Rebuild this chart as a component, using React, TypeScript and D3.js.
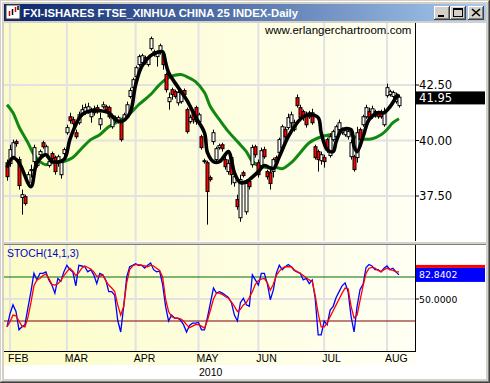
import React from "react";
import * as d3 from "d3";

const TITLE = "FXI-ISHARES FTSE_XINHUA CHINA 25 INDEX-Daily";
const WATERMARK = "www.erlangerchartroom.com";
const FIRST_BAR = -1; // Jan 29 2010 ; bar 0 = Feb 1 2010

const opens = [39.00, 38.96, 39.27, 39.95, 39.14, 37.43, 37.47, 38.10, 38.64, 39.05, 38.87, 39.36, 39.90, 39.32, 38.87, 39.41, 39.23, 39.00, 38.46, 39.41,
  40.35, 41.07, 40.94, 40.35, 40.80, 41.16, 41.30, 41.30, 41.07, 41.43, 41.48, 40.71, 41.52, 41.52, 41.48, 40.62, 41.03, 40.85, 40.80, 40.94,
  41.07, 41.98, 42.38, 42.88, 43.42, 43.51, 43.73, 43.42, 44.14, 43.87, 43.78, 43.96, 43.87, 42.97, 41.75, 42.29, 42.20, 41.70, 41.75, 42.25,
  41.39, 40.85, 41.30, 41.48, 40.85, 40.17, 39.09, 39.00, 38.33, 39.95, 39.14, 39.68, 39.81, 39.14, 38.60, 39.23, 38.10, 37.34, 36.52, 38.55,
  36.79, 38.15, 38.91, 39.72, 39.00, 38.87, 39.59, 38.60, 38.55, 38.60, 39.23, 39.45, 39.68, 40.49, 40.58, 40.80, 40.49, 41.93, 41.48, 41.30,
  41.16, 41.07, 41.25, 39.72, 39.50, 39.09, 39.23, 40.04, 39.32, 40.04, 40.17, 40.49, 40.35, 40.26, 40.17, 39.27, 39.27, 39.23, 40.49, 40.71,
  41.07, 41.30, 41.07, 41.30, 41.25, 41.25, 40.71, 42.02, 42.07, 41.98, 41.75, 41.57];
const closes = [38.37, 39.59, 39.90, 39.86, 37.97, 37.56, 37.16, 38.46, 38.69, 39.68, 39.05, 39.50, 39.72, 39.72, 39.05, 39.18, 38.60, 39.27, 39.00, 39.59,
  40.58, 40.89, 40.76, 40.17, 41.16, 41.39, 41.48, 41.52, 41.30, 41.25, 41.30, 40.98, 41.61, 41.39, 41.07, 41.12, 40.89, 41.03, 40.04, 41.16,
  41.61, 42.25, 42.74, 43.28, 43.78, 43.82, 43.51, 43.73, 44.59, 44.00, 43.96, 44.27, 43.42, 42.29, 41.93, 42.07, 41.98, 42.16, 42.20, 42.07,
  40.40, 41.03, 40.94, 40.85, 41.16, 39.68, 39.05, 37.70, 38.24, 40.35, 39.63, 39.77, 39.63, 38.82, 38.96, 38.46, 38.37, 37.02, 38.24, 38.42,
  38.06, 37.92, 39.68, 39.36, 38.46, 39.54, 39.27, 38.37, 38.06, 39.14, 39.05, 40.04, 40.62, 40.17, 41.03, 41.16, 40.80, 41.57, 41.03, 41.03,
  40.71, 41.25, 40.80, 39.23, 39.14, 39.36, 39.05, 39.59, 40.17, 40.40, 40.62, 40.80, 40.49, 40.44, 40.40, 39.90, 38.69, 40.35, 40.04, 41.07,
  41.48, 41.03, 41.43, 41.12, 41.07, 41.07, 41.30, 42.38, 42.20, 42.16, 42.02, 41.95];
const highs = [39.14, 39.81, 40.04, 40.04, 39.27, 37.79, 37.56, 38.60, 38.91, 39.81, 39.14, 39.59, 39.99, 39.81, 39.23, 39.50, 39.32, 39.36, 39.14, 39.68,
  40.71, 41.25, 41.07, 40.49, 41.30, 41.61, 41.66, 41.70, 41.48, 41.57, 41.61, 41.25, 41.75, 41.61, 41.57, 41.21, 41.12, 41.12, 40.89, 41.25,
  41.75, 42.38, 42.83, 43.37, 43.87, 43.91, 43.82, 43.82, 44.68, 44.09, 44.05, 44.36, 44.00, 43.06, 42.16, 42.38, 42.29, 42.29, 42.29, 42.34,
  41.48, 41.16, 41.39, 41.57, 41.25, 40.26, 39.18, 39.09, 38.42, 40.49, 39.72, 39.86, 39.90, 39.27, 39.14, 39.36, 38.46, 37.56, 38.46, 38.64,
  38.24, 38.24, 39.81, 39.81, 39.14, 39.68, 39.72, 38.69, 38.69, 39.23, 39.32, 40.13, 40.71, 40.62, 41.21, 41.30, 40.94, 42.07, 41.61, 41.39,
  41.30, 41.34, 41.43, 39.81, 39.59, 39.50, 39.36, 40.13, 40.31, 40.49, 40.71, 40.94, 40.58, 40.53, 40.49, 40.04, 39.36, 40.62, 40.58, 41.16,
  41.61, 41.48, 41.57, 41.39, 41.34, 41.39, 41.48, 42.56, 42.29, 42.25, 42.16, 42.07];
const lows = [38.19, 38.82, 39.14, 39.72, 37.79, 36.66, 37.07, 37.97, 38.33, 38.91, 38.78, 39.23, 39.63, 39.23, 38.78, 39.09, 38.46, 38.82, 38.28, 39.27,
  40.26, 40.76, 40.62, 40.08, 40.71, 41.07, 41.16, 41.21, 40.80, 41.12, 41.21, 40.49, 41.43, 41.30, 40.98, 40.53, 40.80, 40.76, 39.95, 40.85,
  40.98, 41.89, 42.29, 42.79, 43.33, 43.46, 43.42, 43.33, 44.05, 43.78, 43.33, 43.87, 43.19, 42.16, 41.39, 41.84, 41.89, 41.57, 41.66, 41.98,
  40.31, 40.76, 40.76, 40.71, 40.71, 39.59, 38.96, 36.21, 38.15, 39.81, 39.00, 39.59, 39.50, 38.69, 38.46, 38.01, 37.92, 36.88, 36.34, 38.33,
  36.66, 37.79, 38.78, 39.23, 38.33, 38.78, 39.18, 38.24, 37.79, 38.33, 38.91, 39.32, 39.59, 40.08, 40.49, 40.44, 40.40, 41.48, 40.94, 40.89,
  40.58, 40.98, 40.71, 39.14, 38.60, 38.91, 38.78, 39.45, 39.23, 39.95, 40.08, 40.40, 40.26, 40.17, 40.04, 39.14, 38.60, 39.00, 39.95, 40.62,
  40.98, 40.94, 40.98, 41.03, 40.98, 40.98, 40.62, 41.93, 41.98, 41.89, 41.66, 41.48];

// thick black short-term average (bar index, price)
const trendIdx = [-1, 1, 3, 7, 9, 12, 14, 18, 20, 22, 24, 27, 30, 33, 35, 37, 40, 42, 44, 47, 49, 51, 52, 53, 56, 59, 62, 65, 66, 68, 70, 73, 74, 75, 77, 79, 80, 83, 85, 88, 90, 93, 96, 98, 100, 103, 104, 106, 108, 109, 111, 114, 115, 116, 118, 120, 123, 125, 127, 129, 130];
const trendVal = [38.78, 39.23, 39.00, 37.92, 39.00, 39.36, 39.05, 39.14, 40.04, 40.71, 41.16, 41.34, 41.34, 41.25, 40.98, 40.85, 41.21, 42.52, 43.33, 43.82, 43.96, 44.00, 43.51, 43.06, 42.43, 41.84, 41.07, 40.35, 39.45, 39.05, 39.05, 39.50, 39.14, 38.55, 38.10, 38.15, 38.24, 38.60, 38.87, 38.73, 39.27, 40.17, 40.80, 41.07, 41.16, 41.03, 40.35, 39.59, 39.50, 39.95, 40.49, 40.49, 39.72, 39.50, 40.17, 40.94, 41.25, 41.25, 41.52, 41.93, 42.07];

// green longer moving average (bar index, price)
const maIdx = [-1, 1, 3, 6, 8, 10, 12, 14, 18, 21, 24, 27, 30, 33, 36, 40, 43, 47, 50, 53, 57, 59, 62, 65, 67, 70, 73, 76, 79, 81, 84, 86, 89, 91, 94, 97, 100, 104, 107, 110, 113, 115, 117, 121, 124, 126, 128, 130];
const maVal = [41.61, 41.25, 40.62, 39.90, 39.36, 39.05, 38.91, 39.00, 39.05, 39.23, 39.65, 40.04, 40.26, 40.62, 40.85, 41.21, 41.61, 42.07, 42.52, 42.83, 42.97, 42.88, 42.65, 42.16, 41.52, 40.94, 40.40, 39.95, 39.50, 39.05, 38.82, 38.78, 38.78, 38.73, 39.00, 39.45, 39.90, 40.17, 40.26, 40.40, 40.35, 40.17, 40.08, 40.08, 40.26, 40.49, 40.80, 40.98];

const stochK = [12, 30, 42, 33, 8, 12, 15, 38, 60, 85, 76, 85, 85, 87, 76, 69, 58, 78, 74, 87,
  96, 90, 87, 68, 96, 95, 94, 87, 90, 83, 71, 85, 83, 76, 60, 60, 55, 21, 5, 40,
  80, 94, 96, 98, 96, 96, 92, 96, 99, 90, 87, 88, 70, 40, 20, 28, 24, 24, 21, 15,
  5, 14, 17, 17, 18, 8, 8, 25, 45, 65, 58, 60, 58, 55, 52, 45, 28, 20, 45, 51,
  42, 40, 83, 76, 69, 85, 85, 71, 49, 62, 85, 96, 90, 94, 97, 94, 89, 87, 85, 76,
  78, 71, 76, 51, 1, 1, 20, 15, 35, 40, 52, 60, 68, 72, 60, 26, 5, 40, 63, 70,
  93, 97, 95, 90, 90, 87, 92, 95, 90, 92, 87, 82.8402];
const stochD = [12, 19, 28, 27, 20, 13, 12, 25, 45, 68, 76, 78, 82, 84, 78, 70, 69, 71, 75, 82,
  87, 92, 88, 82, 86, 92, 95, 93, 91, 87, 81, 81, 83, 75, 69, 65, 60, 42, 28, 40,
  72, 90, 95, 97, 97, 96, 95, 94, 96, 95, 92, 89, 80, 50, 33, 26, 24, 24, 23, 20,
  15, 11, 13, 15, 15, 13, 10, 21, 35, 50, 58, 58, 56, 53, 51, 46, 40, 33, 36, 42,
  45, 52, 60, 70, 75, 77, 78, 72, 62, 70, 82, 88, 92, 94, 94, 94, 90, 87, 85, 82,
  79, 76, 74, 55, 30, 12, 12, 17, 26, 34, 42, 50, 58, 65, 64, 40, 24, 28, 48, 68,
  85, 92, 93, 92, 89, 87, 90, 92, 90, 89, 87, 87];

const months = ["FEB", "MAR", "APR", "MAY", "JUN", "JUL", "AUG"];
const monthBar = [0, 19, 42, 63, 83, 105, 126];
const priceTicks = [42.5, 40, 37.5];
const lastPrice = 41.95;
const stochTicks = [50];
const stochUpper = 80;
const stochLower = 20;
const lastK = 82.8402;
const yearLabel = "2010";
const stochLabel = "STOCH(14,1,3)";

export default function App() {
  const W = 490, H = 383;
  const L = 4, R = 415, PT = 23, PB = 241, ST = 245, SB = 351;
  const x = d3.scaleLinear().domain([0, 126]).range([10, 387]);
  const yP = d3.scaleLinear().domain([37.5, 42.5]).range([196, 85]);
  const yS = d3.scaleLinear().domain([20, 80]).range([321, 277]);

  const bars = opens.map((o, k) => ({ i: FIRST_BAR + k, o, c: closes[k], h: highs[k], l: lows[k] }));
  const priceLine = d3.line<[number, number]>()
    .x((d) => x(d[0])).y((d) => yP(d[1])).curve(d3.curveCatmullRom.alpha(0.5));
  const stochLine = d3.line<[number, number]>().x((d) => x(d[0])).y((d) => yS(d[1]));
  const trendPts = trendIdx.map((t, k) => [t, trendVal[k]] as [number, number]);
  const maPts = maIdx.map((t, k) => [t, maVal[k]] as [number, number]);
  const kPts = stochK.map((v, k) => [FIRST_BAR + k, v] as [number, number]);
  const dPts = stochD.map((v, k) => [FIRST_BAR + k, v] as [number, number]);

  const sans = "'Liberation Sans', Arial, sans-serif";
  const dejavu = "'DejaVu Sans', Verdana, sans-serif";
  const grid = "#e2e2e2";

  return (
    <svg width={W} height={H} style={{ position: "absolute", left: 0, top: 0 }} xmlns="http://www.w3.org/2000/svg">
      <defs>
        <linearGradient id="tb" x1="0" x2="1" y1="0" y2="0">
          <stop offset="0" stopColor="#0a246a" />
          <stop offset="1" stopColor="#a6caf0" />
        </linearGradient>
        <linearGradient id="bg" x1="0" x2="1" y1="0" y2="0">
          <stop offset="0" stopColor="#fcfcc8" />
          <stop offset="1" stopColor="#fffff4" />
        </linearGradient>
        <clipPath id="cp"><rect x={L} y={PT} width={R - L} height={PB - PT} /></clipPath>
        <clipPath id="cs"><rect x={L} y={ST} width={R - L} height={SB - ST} /></clipPath>
      </defs>

      {/* window frame */}
      <rect x={0} y={0} width={W} height={H} fill="#d4d0c8" />
      <line x1={0.5} y1={0.5} x2={W - 0.5} y2={0.5} stroke="#d4d0c8" />
      <line x1={1.5} y1={1.5} x2={W - 1.5} y2={1.5} stroke="#ffffff" />
      <line x1={1.5} y1={1.5} x2={1.5} y2={H - 1.5} stroke="#ffffff" />
      <line x1={0} y1={H - 0.5} x2={W} y2={H - 0.5} stroke="#404040" />
      <line x1={W - 0.5} y1={0} x2={W - 0.5} y2={H} stroke="#404040" />
      <line x1={1} y1={H - 1.5} x2={W - 1} y2={H - 1.5} stroke="#808080" />
      <line x1={W - 1.5} y1={1} x2={W - 1.5} y2={H - 1} stroke="#808080" />

      {/* title bar */}
      <rect x={4} y={4} width={482} height={17} fill="url(#tb)" />
      <rect x={6} y={5} width={14} height={14} fill="#ffffff" stroke="#404040" strokeWidth={1} />
      <line x1={9.5} y1={16} x2={9.5} y2={11} stroke="#cc0000" strokeWidth={1.5} />
      <line x1={12.5} y1={15} x2={12.5} y2={9} stroke="#000" strokeWidth={1.5} />
      <line x1={15.5} y1={12} x2={15.5} y2={7} stroke="#cc0000" strokeWidth={1.5} />
      <line x1={18} y1={10} x2={18} y2={6} stroke="#000" strokeWidth={1.5} />
      <text x={23} y={17} fill="#ffffff" fontFamily={sans} fontWeight="bold" fontSize={11.5} textLength={275} lengthAdjust="spacingAndGlyphs">{TITLE}</text>
      {[434, 450, 468].map((bx, k) => (
        <g key={k}>
          <rect x={bx} y={6} width={16} height={14} fill="#d4d0c8" />
          <line x1={bx} y1={6.5} x2={bx + 16} y2={6.5} stroke="#fff" />
          <line x1={bx + 0.5} y1={6} x2={bx + 0.5} y2={20} stroke="#fff" />
          <line x1={bx} y1={19.5} x2={bx + 16} y2={19.5} stroke="#404040" />
          <line x1={bx + 15.5} y1={6} x2={bx + 15.5} y2={20} stroke="#404040" />
          <line x1={bx + 1} y1={18.5} x2={bx + 15} y2={18.5} stroke="#808080" />
          <line x1={bx + 14.5} y1={7} x2={bx + 14.5} y2={19} stroke="#808080" />
        </g>
      ))}
      <rect x={438} y={15} width={6} height={2} fill="#000" />
      <rect x={453.5} y={8.5} width={9} height={8} fill="none" stroke="#000" />
      <line x1={453} y1={9.5} x2={463} y2={9.5} stroke="#000" />
      <path d="M472,9 L480,16 M480,9 L472,16" stroke="#000" strokeWidth={1.6} />

      {/* client area */}
      <rect x={L} y={PT} width={482} height={356} fill="#ffffff" />
      <rect x={L} y={PT} width={R - L} height={PB - PT} fill="url(#bg)" />
      <rect x={L} y={ST} width={R - L} height={SB - ST} fill="url(#bg)" />
      <rect x={L} y={SB} width={R - L} height={14} fill="url(#bg)" />
      <rect x={L} y={PB} width={482} height={ST - PB} fill="#d4d0c8" />
      <line x1={L} y1={PB + 0.5} x2={486} y2={PB + 0.5} stroke="#ffffff" />
      <line x1={L} y1={ST - 0.5} x2={486} y2={ST - 0.5} stroke="#808080" />

      {/* price panel grid */}
      {monthBar.map((m, k) => (
        <line key={"vg" + k} x1={x(m)} x2={x(m)} y1={PT} y2={PB} stroke={grid} strokeWidth={2} />
      ))}
      {priceTicks.map((p, k) => (
        <line key={"hg" + k} x1={L} x2={R} y1={yP(p)} y2={yP(p)} stroke={grid} strokeWidth={2} />
      ))}
      <text x={265} y={34} fontFamily={sans} fontSize={11.5} fill="#000">{WATERMARK}</text>

      <g clipPath="url(#cp)">
        <path d={priceLine(maPts) || ""} fill="none" stroke="#118811" strokeWidth={3} strokeLinejoin="round" />
        {bars.map((b) => {
          const cx = Math.round(x(b.i));
          const top = yP(Math.max(b.o, b.c));
          const bot = yP(Math.min(b.o, b.c));
          return (
            <g key={"c" + b.i}>
              <line x1={cx + 0.5} x2={cx + 0.5} y1={yP(b.h)} y2={yP(b.l)} stroke="#000" strokeWidth={1} />
              <rect x={cx - 1} y={top} width={3} height={Math.max(1, bot - top)}
                fill={b.c >= b.o ? "#ffffff" : "#ff0000"} stroke="#000" strokeWidth={1} />
            </g>
          );
        })}
        <path d={priceLine(trendPts) || ""} fill="none" stroke="#000" strokeWidth={3.6} strokeLinejoin="round" />
      </g>

      {/* price axis */}
      <line x1={R + 0.5} x2={R + 0.5} y1={PT} y2={PB} stroke="#000" />
      {priceTicks.map((p, k) => (
        <g key={"pt" + k}>
          <line x1={R} x2={R + 4} y1={yP(p)} y2={yP(p)} stroke="#000" />
          <text x={R + 4} y={yP(p) + 4} fontFamily={dejavu} fontSize={11.6} fill="#000">{p.toFixed(2)}</text>
        </g>
      ))}
      <rect x={R} y={yP(lastPrice) - 5.8} width={70} height={13} fill="#000" />
      <text x={R + 4} y={yP(lastPrice) + 4.8} fontFamily={dejavu} fontSize={11.6} fill="#fff">{lastPrice.toFixed(2)}</text>

      {/* stochastic panel */}
      {monthBar.map((m, k) => (
        <line key={"svg" + k} x1={x(m)} x2={x(m)} y1={ST} y2={SB} stroke={grid} strokeWidth={2} />
      ))}
      {stochTicks.map((v, k) => (
        <line key={"shg" + k} x1={L} x2={R} y1={yS(v)} y2={yS(v)} stroke={grid} strokeWidth={2} />
      ))}
      <line x1={L} x2={R} y1={yS(stochUpper)} y2={yS(stochUpper)} stroke="#007000" strokeWidth={1.2} />
      <line x1={L} x2={R} y1={yS(stochLower)} y2={yS(stochLower)} stroke="#800000" strokeWidth={1.2} />
      <g clipPath="url(#cs)">
        <path d={stochLine(kPts) || ""} fill="none" stroke="#0000ff" strokeWidth={1.3} />
        <path d={stochLine(dPts) || ""} fill="none" stroke="#ff0000" strokeWidth={1.3} />
      </g>
      <text x={7} y={257} fontFamily={sans} fontSize={10.4} fill="#0000cc">{stochLabel}</text>
      <line x1={R + 0.5} x2={R + 0.5} y1={ST} y2={SB} stroke="#000" />
      <line x1={L} x2={R + 1} y1={SB + 0.5} y2={SB + 0.5} stroke="#000" />
      {stochTicks.map((v, k) => (
        <g key={"st" + k}>
          <line x1={R} x2={R + 4} y1={yS(v)} y2={yS(v)} stroke="#000" />
          <text x={R + 4} y={yS(v) + 3.5} fontFamily={dejavu} fontSize={9.3} fill="#000">{v.toFixed(4)}</text>
        </g>
      ))}
      <rect x={R + 1} y={yS(lastK) - 10} width={69} height={3} fill="#ff0000" />
      <rect x={R + 1} y={yS(lastK) - 7} width={69} height={14} fill="#0000ff" />
      <text x={R + 4} y={yS(lastK) + 3.5} fontFamily={dejavu} fontSize={9.3} fill="#fff">{lastK.toFixed(4)}</text>

      {/* x axis */}
      {months.map((m, k) => (
        <text key={"m" + k} x={x(monthBar[k]) - 2} y={362} fontFamily={sans} fontSize={10.5} fill="#000">{m}</text>
      ))}
      <text x={199} y={376} fontFamily={sans} fontSize={10.5} fill="#000">{yearLabel}</text>
    </svg>
  );
}
